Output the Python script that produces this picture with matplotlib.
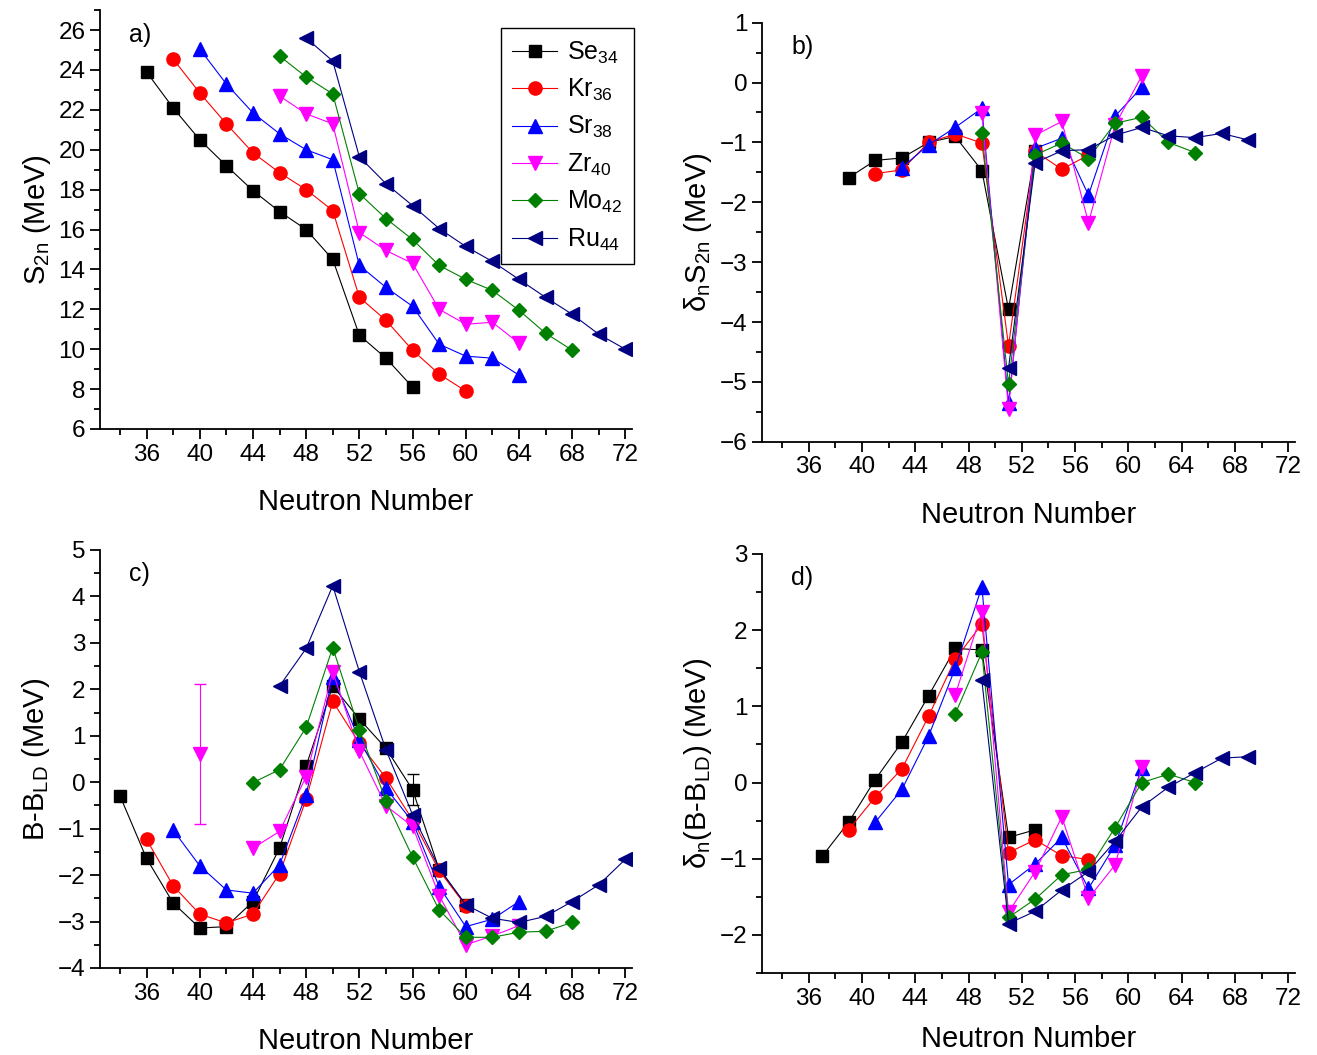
import matplotlib
matplotlib.use("Agg")
import matplotlib.pyplot as plt
from matplotlib.ticker import MultipleLocator

plt.rcParams["font.family"] = ["Liberation Sans", "DejaVu Sans"]
plt.rcParams["mathtext.fontset"] = "custom"
plt.rcParams["mathtext.rm"] = "Liberation Sans"
plt.rcParams["mathtext.it"] = "Liberation Sans"
plt.rcParams["mathtext.default"] = "regular"

# element names, colours, markers
names = ["Se$_{34}$", "Kr$_{36}$", "Sr$_{38}$", "Zr$_{40}$", "Mo$_{42}$", "Ru$_{44}$"]
colors = ["black", "#ff0000", "#0000ff", "#ff00ff", "#008000", "#000080"]
markers = ["s", "o", "^", "v", "D", "<"]
msizes = [8.5, 9.5, 9.5, 9.5, 7.5, 9.5]

# a) S2n
s2n_n = [
    [36, 38, 40, 42, 44, 46, 48, 50, 52, 54, 56],
    [38, 40, 42, 44, 46, 48, 50, 52, 54, 56, 58, 60],
    [40, 42, 44, 46, 48, 50, 52, 54, 56, 58, 60, 62, 64],
    [46, 48, 50, 52, 54, 56, 58, 60, 62, 64],
    [46, 48, 50, 52, 54, 56, 58, 60, 62, 64, 66, 68],
    [48, 50, 52, 54, 56, 58, 60, 62, 64, 66, 68, 70, 72],
]
s2n_val = [
    [23.9, 22.1, 20.5, 19.2, 17.95, 16.9, 16.0, 14.5, 10.7, 9.55, 8.1],
    [24.55, 22.85, 21.3, 19.85, 18.85, 18.0, 16.95, 12.6, 11.45, 9.95, 8.75, 7.9],
    [25.05, 23.3, 21.85, 20.8, 20.0, 19.5, 14.2, 13.1, 12.15, 10.25, 9.65, 9.55, 8.7],
    [22.7, 21.8, 21.3, 15.85, 14.95, 14.3, 12.0, 11.25, 11.35, 10.3],
    [24.7, 23.65, 22.8, 17.8, 16.55, 15.5, 14.2, 13.5, 12.95, 11.95, 10.8, 9.95],
    [25.6, 24.45, 19.65, 18.3, 17.2, 16.05, 15.15, 14.4, 13.5, 12.6, 11.75, 10.75, 10.0],
]

# b) delta_n S2n
ds2n_n = [
    [39, 41, 43, 45, 47, 49, 51, 53],
    [41, 43, 45, 47, 49, 51, 53, 55, 57],
    [43, 45, 47, 49, 51, 53, 55, 57, 59, 61],
    [49, 51, 53, 55, 57, 59, 61],
    [49, 51, 53, 55, 57, 59, 61, 63, 65],
    [51, 53, 55, 57, 59, 61, 63, 65, 67, 69],
]
ds2n_val = [
    [-1.59, -1.30, -1.26, -1.0, -0.90, -1.47, -3.79, -1.15],
    [-1.52, -1.46, -1.0, -0.86, -1.01, -4.40, -1.15, -1.45, -1.21],
    [-1.42, -1.04, -0.75, -0.43, -5.36, -1.10, -0.93, -1.88, -0.56, -0.08],
    [-0.51, -5.46, -0.88, -0.65, -2.34, -0.71, 0.11],
    [-0.84, -5.04, -1.21, -1.01, -1.27, -0.68, -0.58, -1.0, -1.17],
    [-4.77, -1.34, -1.14, -1.12, -0.88, -0.75, -0.89, -0.92, -0.85, -0.96],
]

# c) B - B_LD
bld_n = [
    [34, 36, 38, 40, 42, 44, 46, 48, 50, 52, 54, 56, 58, 60],
    [36, 38, 40, 42, 44, 46, 48, 50, 52, 54, 56, 58, 60],
    [38, 40, 42, 44, 46, 48, 50, 52, 54, 56, 58, 60, 62, 64],
    [44, 46, 48, 50, 52, 54, 56, 58, 60, 62, 64],
    [44, 46, 48, 50, 52, 54, 56, 58, 60, 62, 64, 66, 68],
    [46, 48, 50, 52, 54, 56, 58, 60, 62, 64, 66, 68, 70, 72],
]
bld_val = [
    [-0.29, -1.64, -2.60, -3.14, -3.11, -2.57, -1.42, 0.35, 2.07, 1.36, 0.73, -0.16, -1.88, -2.64],
    [-1.23, -2.23, -2.84, -3.03, -2.84, -1.97, -0.37, 1.74, 0.84, 0.09, -0.81, -1.90, -2.66],
    [-1.03, -1.80, -2.32, -2.39, -1.78, -0.27, 2.27, 0.91, -0.13, -0.85, -2.25, -3.11, -2.95, -2.57],
    [-1.42, -1.06, 0.12, 2.38, 0.67, -0.51, -0.95, -2.44, -3.50, -3.31, -3.09],
    [-0.01, 0.27, 1.18, 2.90, 1.13, -0.40, -1.61, -2.75, -3.34, -3.34, -3.23, -3.21, -3.02],
    [2.07, 2.88, 4.23, 2.38, 0.70, -0.70, -1.85, -2.64, -2.93, -3.02, -2.89, -2.57, -2.21, -1.66],
]

# d) delta_n (B - B_LD)
dbld_n = [
    [37, 39, 41, 43, 45, 47, 49, 51, 53],
    [39, 41, 43, 45, 47, 49, 51, 53, 55, 57],
    [41, 43, 45, 47, 49, 51, 53, 55, 57, 59, 61],
    [47, 49, 51, 53, 55, 57, 59, 61],
    [47, 49, 51, 53, 55, 57, 59, 61, 63, 65],
    [49, 51, 53, 55, 57, 59, 61, 63, 65, 67, 69],
]
dbld_val = [
    [-0.97, -0.52, 0.04, 0.53, 1.14, 1.76, 1.74, -0.72, -0.62],
    [-0.62, -0.19, 0.18, 0.87, 1.62, 2.08, -0.92, -0.75, -0.96, -1.01],
    [-0.52, -0.09, 0.61, 1.50, 2.57, -1.34, -1.07, -0.72, -1.39, -0.82, 0.19],
    [1.15, 2.24, -1.70, -1.17, -0.45, -1.52, -1.08, 0.20],
    [0.90, 1.71, -1.77, -1.53, -1.21, -1.14, -0.59, 0.0, 0.11, 0.0],
    [1.34, -1.85, -1.69, -1.41, -1.17, -0.77, -0.32, -0.06, 0.13, 0.32, 0.34],
]

# points shown with error bars: (N, value, error)
err_se_s2n = (56, 8.1, 0.25)
err_se_bld = (56, -0.16, 0.33)
err_zr_bld = (40, 0.61, 1.5)  # isolated Zr point in panel c

fig = plt.figure(figsize=(13.17, 10.55), dpi=100)
ax_a = fig.add_axes([0.0759, 0.5934, 0.404, 0.397])
ax_b = fig.add_axes([0.5786, 0.5813, 0.4047, 0.3972])
ax_c = fig.add_axes([0.0759, 0.0825, 0.404, 0.3962])
ax_d = fig.add_axes([0.5786, 0.0777, 0.4047, 0.3972])


def draw(ax, xs, ys):
    for i in range(6):
        ax.plot(xs[i], ys[i], color=colors[i], marker=markers[i], ms=msizes[i],
                lw=0.8, label=names[i])


def style(ax, ylim, ymaj, ymin, ylabel, tag, xpad=16):
    ax.set_xlim(32.5, 72.5)
    ax.set_ylim(*ylim)
    ax.xaxis.set_major_locator(MultipleLocator(4))
    ax.xaxis.set_minor_locator(MultipleLocator(2))
    ax.yaxis.set_major_locator(MultipleLocator(ymaj))
    ax.yaxis.set_minor_locator(MultipleLocator(ymin))
    ax.set_xticks(range(36, 73, 4))
    for s in ["top", "right"]:
        ax.spines[s].set_visible(False)
    for s in ["left", "bottom"]:
        ax.spines[s].set_linewidth(1.3)
    ax.tick_params(which="major", direction="out", length=7, width=1.3, labelsize=17.5)
    ax.tick_params(which="minor", direction="out", length=4, width=1.3)
    ax.set_xlabel("Neutron Number", fontsize=21, labelpad=xpad)
    ax.set_ylabel(ylabel, fontsize=21, labelpad=4)
    ax.text(0.055, 0.925, tag, transform=ax.transAxes, fontsize=18)


draw(ax_a, s2n_n, s2n_val)
ax_a.errorbar([err_se_s2n[0]], [err_se_s2n[1]], yerr=[err_se_s2n[2]], color="black",
              lw=0.8, capsize=3, fmt="none")
style(ax_a, (6, 27), 2, 1, "S$_{2n}$ (MeV)", "a)")
ax_a.legend(loc="upper right", bbox_to_anchor=(1.004, 0.957), borderaxespad=0,
            fontsize=18, fancybox=False, edgecolor="black", framealpha=1,
            handlelength=1.8, handletextpad=0.4, labelspacing=0.45, borderpad=0.45)

draw(ax_b, ds2n_n, ds2n_val)
style(ax_b, (-6, 1), 1, 0.5, "δ$_n$S$_{2n}$ (MeV)", "b)")

draw(ax_c, bld_n, bld_val)
ax_c.errorbar([err_se_bld[0]], [err_se_bld[1]], yerr=[err_se_bld[2]], color="black",
              lw=0.8, capsize=4, fmt="none")
ax_c.errorbar([err_zr_bld[0]], [err_zr_bld[1]], yerr=[err_zr_bld[2]], color="#ff00ff",
              lw=0.8, capsize=4, marker="v", ms=msizes[3])
style(ax_c, (-4, 5), 1, 0.5, "B-B$_{LD}$ (MeV)", "c)")

draw(ax_d, dbld_n, dbld_val)
style(ax_d, (-2.5, 3), 1, 0.5, "δ$_n$(B-B$_{LD}$) (MeV)", "d)", xpad=11)

fig.savefig("out.png", dpi=100)
